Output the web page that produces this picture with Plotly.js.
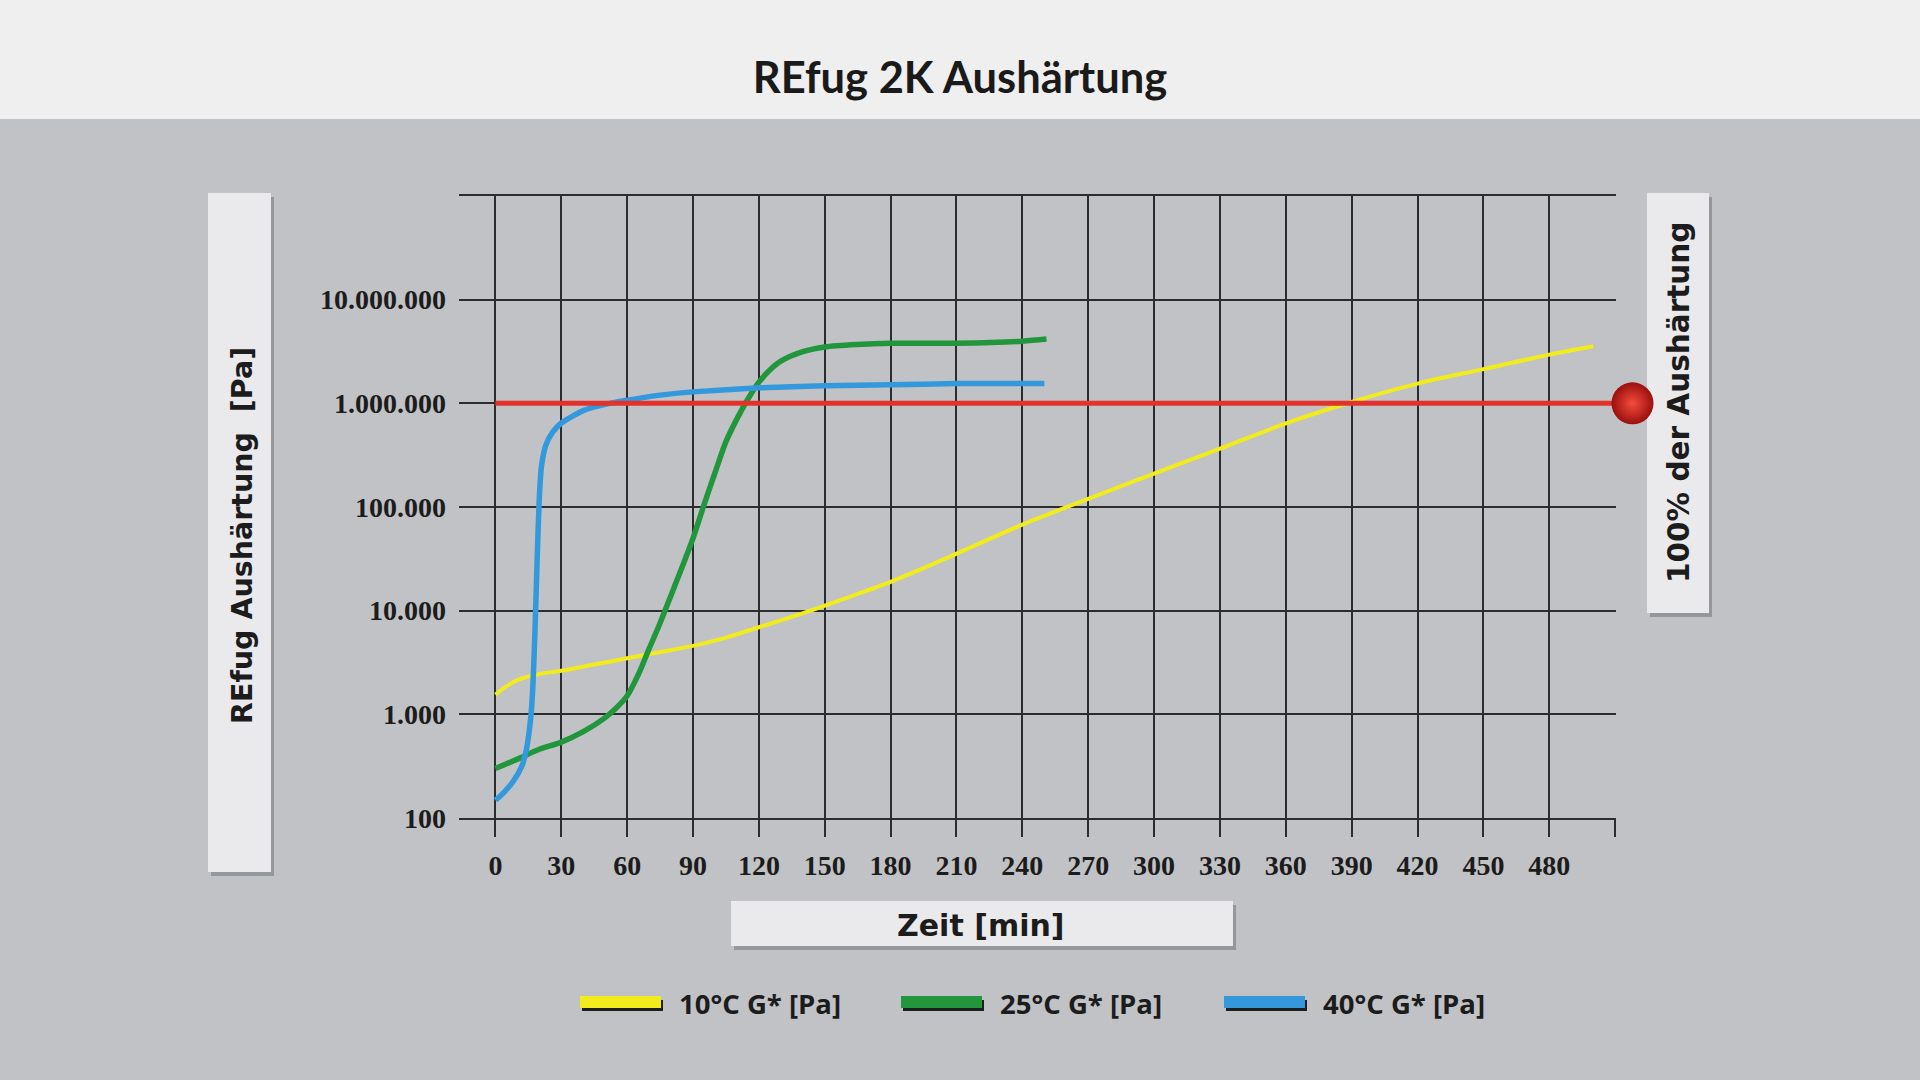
<!DOCTYPE html>
<html>
<head>
<meta charset="utf-8">
<script src="https://cdn.plot.ly/plotly-3.0.1.min.js"></script>
<style>
  html, body { margin: 0; padding: 0; background: #c1c2c5; }
  #myDiv { width: 1920px; height: 1080px; }
</style>
</head>
<body>
<div id="myDiv"></div>
<script>
// curing curves (time in min, G* in Pa)
var time10 = [0, 5, 10, 20, 30, 45, 60, 75, 90, 105, 120, 135, 150, 165, 180, 195, 210, 240, 270, 300, 330, 360, 390, 420, 450, 480, 500];
var g10 = [1550, 1860, 2140, 2450, 2630, 3020, 3470, 3980, 4570, 5500, 6920, 8710, 11200, 14500, 19000, 25700, 35500, 67600, 120000, 210000, 365000, 640000, 1030000, 1550000, 2140000, 2950000, 3550000];

var time25 = [0, 10, 20, 30, 40, 50, 55, 60, 65, 70, 75, 80, 85, 90, 95, 100, 105, 110, 115, 120, 125, 130, 140, 150, 165, 180, 210, 240, 251];
var g25 = [300, 370, 460, 540, 680, 930, 1150, 1510, 2400, 4300, 7600, 14100, 26300, 50000, 105000, 214000, 427000, 708000, 1100000, 1600000, 2100000, 2550000, 3150000, 3500000, 3700000, 3800000, 3800000, 3980000, 4170000];

var time40 = [0, 4, 8, 12, 14, 16, 17, 18, 19, 20, 21, 23, 26, 30, 40, 50, 60, 75, 90, 120, 150, 180, 210, 250];
var g40 = [148, 178, 224, 316, 447, 891, 1780, 6300, 31600, 126000, 251000, 398000, 525000, 646000, 851000, 977000, 1070000, 1200000, 1290000, 1410000, 1480000, 1510000, 1550000, 1550000];

var seriesNames = ['10°C G* [Pa]', '25°C G* [Pa]', '40°C G* [Pa]'];
var seriesColors = ['#f3ec1c', '#22963c', '#3399dc'];

// 100% curing level
var limitX = [0, 510];
var limitY = [1000000, 1000000];
var limitDotY = [1000000];

var xTickVals = [0, 30, 60, 90, 120, 150, 180, 210, 240, 270, 300, 330, 360, 390, 420, 450, 480, 510];
var xTickText = ['0', '30', '60', '90', '120', '150', '180', '210', '240', '270', '300', '330', '360', '390', '420', '450', '480', ''];
var yTickVals = [100, 1000, 10000, 100000, 1000000, 10000000, 100000000];
var yTickText = ['100', '1.000', '10.000', '100.000', '1.000.000', '10.000.000', ''];

// page pixel -> paper coords (margins 459 left, 200 right, 196 top, 262 bottom)
var plotW = 1920 - 459 - 200;
function px(x) { return (x - 459) / plotW; }
function py(y) { return (818 - y) / 622; }

var gridCol = '#2b2c2e';
var boxCol = '#eaeaed';
var shadowCol = 'rgba(40,40,45,0.28)';

function box(x0, y0, x1, y1, fill) {
    return {type: 'rect', xref: 'paper', yref: 'paper', layer: 'below',
        x0: px(x0), x1: px(x1), y0: py(y1), y1: py(y0),
        fillcolor: fill, line: {width: 0}};
}

var data = [
    {x: time10, y: g10, type: 'scatter', mode: 'lines', name: seriesNames[0],
     line: {color: seriesColors[0], width: 4, shape: 'spline', smoothing: 0.8}},
    {x: time25, y: g25, type: 'scatter', mode: 'lines', name: seriesNames[1],
     line: {color: seriesColors[1], width: 5.5, shape: 'spline', smoothing: 0.8}},
    {x: time40, y: g40, type: 'scatter', mode: 'lines', name: seriesNames[2],
     line: {color: seriesColors[2], width: 5.5, shape: 'spline', smoothing: 0.6}},
    {x: limitX, y: limitY, type: 'scatter', mode: 'lines', name: '100%',
     line: {color: '#e3322b', width: 5}},
    // red ball sits on its own small, hidden axes right of the plot
    {x: [0.5], y: limitDotY, xaxis: 'x2', yaxis: 'y2', type: 'scatter', mode: 'markers',
     name: '100% der Aushärtung', cliponaxis: false,
     marker: {size: 42, color: '#9c0f0c', gradient: {type: 'radial', color: '#f24c3e'}, line: {width: 0}}}
];

var shapes = [
    box(0, 0, 1920, 119, '#efefef'),
    box(211, 197, 274, 876, shadowCol),
    box(208, 193, 271, 872, boxCol),
    box(734, 905, 1236, 950, shadowCol),
    box(731, 901, 1233, 946, boxCol),
    box(1650, 197, 1712, 617, shadowCol),
    box(1647, 193, 1709, 613, boxCol)
];

// legend swatches
var swatchX = [580, 901, 1224];
var legendTextX = [677, 998, 1321];
var annotations = [];
for (var i = 0; i < 3; i++) {
    shapes.push(box(swatchX[i] + 2, 1000, swatchX[i] + 83, 1011, '#1e1e1e'));
    shapes.push(box(swatchX[i], 996, swatchX[i] + 81, 1008, seriesColors[i]));
    annotations.push({xref: 'paper', yref: 'paper', x: px(legendTextX[i]), y: py(1004),
        xanchor: 'left', yanchor: 'middle', showarrow: false, text: seriesNames[i],
        font: {family: 'Open Sans', size: 27.5, weight: 'bold', color: '#1c1c1c'}});
}

annotations.push({xref: 'paper', yref: 'paper', x: px(242), y: py(536),
    xanchor: 'center', yanchor: 'middle', showarrow: false, textangle: -90,
    text: 'REfug Aushärtung \u00a0[Pa]',
    font: {family: 'DejaVu Sans', size: 28.5, weight: 'bold', color: '#1c1c1c'}});
annotations.push({xref: 'paper', yref: 'paper', x: px(981), y: py(925),
    xanchor: 'center', yanchor: 'middle', showarrow: false,
    text: 'Zeit [min]',
    font: {family: 'DejaVu Sans', size: 30, weight: 'bold', color: '#1c1c1c'}});
annotations.push({xref: 'paper', yref: 'paper', x: px(1679), y: py(403),
    xanchor: 'center', yanchor: 'middle', showarrow: false, textangle: -90,
    text: '100% der Aushärtung',
    font: {family: 'DejaVu Sans', size: 29.5, weight: 'bold', color: '#1c1c1c'}});

var tickFont = {family: 'Liberation Serif', size: 28, weight: 'bold', color: '#1c1c1c'};

var layout = {
    width: 1920,
    height: 1080,
    paper_bgcolor: '#c1c2c5',
    plot_bgcolor: 'rgba(0,0,0,0)',
    margin: {l: 459, r: 200, t: 196, b: 262},
    showlegend: false,
    title: {
        text: 'REfug 2K Aushärtung',
        x: 0.5, xanchor: 'center',
        y: 1 - 78 / 1080, yanchor: 'middle',
        font: {family: 'Lato', size: 43.5, weight: 'bold', color: '#1a1a1a'}
    },
    xaxis: {
        domain: [0, 1157 / plotW],
        range: [-16.6, 510.4],
        tickmode: 'array',
        tickvals: xTickVals,
        ticktext: xTickText,
        ticks: 'outside',
        ticklen: 17,
        tickwidth: 2,
        tickcolor: gridCol,
        showgrid: true,
        gridcolor: gridCol,
        gridwidth: 2,
        zeroline: false,
        showline: true,
        mirror: true,
        linecolor: gridCol,
        linewidth: 2,
        tickfont: tickFont,
        ticklabelstandoff: 4
    },
    xaxis2: {
        domain: [px(1600), px(1665)],
        range: [0, 1],
        anchor: 'y2',
        visible: false,
        showgrid: false,
        zeroline: false
    },
    yaxis: {
        type: 'log',
        range: [2, 8],
        tickmode: 'array',
        tickvals: yTickVals,
        ticktext: yTickText,
        ticks: '',
        showgrid: true,
        gridcolor: gridCol,
        gridwidth: 2,
        zeroline: false,
        showline: false,
        tickfont: tickFont,
        ticklabelstandoff: 12
    },
    yaxis2: {
        type: 'log',
        range: [2, 8],
        anchor: 'x2',
        visible: false,
        showgrid: false,
        zeroline: false
    },
    shapes: shapes,
    annotations: annotations
};

Plotly.newPlot('myDiv', data, layout, {staticPlot: true});
</script>
</body>
</html>
